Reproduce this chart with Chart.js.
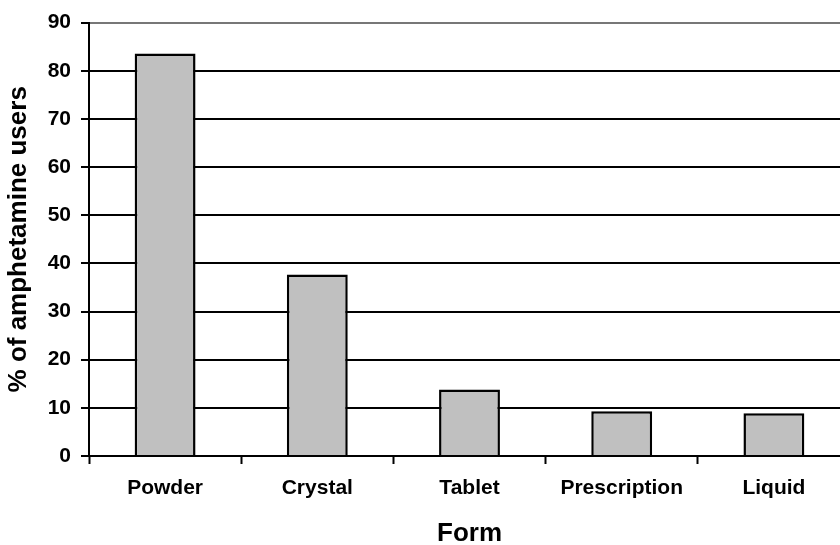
<!DOCTYPE html>
<html>
<head>
<meta charset="utf-8">
<script src="https://cdn.jsdelivr.net/npm/chart.js@4"></script>
<style>
  html, body { margin: 0; padding: 0; background: #fff; overflow: hidden; }
  #wrap { width: 850px; height: 545px; }
</style>
</head>
<body>
<div id="wrap"><canvas id="forms" width="850" height="545"></canvas></div>
<script>
const FORMS = ['Powder', 'Crystal', 'Tablet', 'Prescription', 'Liquid'];
const USERS = [83.6, 37.7, 13.8, 9.3, 8.9];
const Y_TICKS = [0, 10, 20, 30, 40, 50, 60, 70, 80, 90];

const FONT = "'Liberation Sans', Arial, sans-serif";

new Chart(document.getElementById('forms'), {
    type: 'bar',
    data: {
        labels: FORMS,
        datasets: [{
            label: '% of amphetamine users',
            data: USERS,
            backgroundColor: '#c0c0c0',
            borderColor: '#000',
            borderWidth: 2.5,
            categoryPercentage: 1,
            barPercentage: 0.4
        }]
    },
    options: {
        responsive: false,
        animation: false,
        layout: { padding: { top: 22, right: 0, left: 0, bottom: 0 } },
        plugins: { legend: { display: false }, tooltip: { enabled: false } },
        scales: {
            x: {
                grid: {
                    drawOnChartArea: false,
                    drawTicks: true,
                    tickLength: 8,
                    tickWidth: 2,
                    tickColor: '#000'
                },
                border: { color: '#000', width: 2 },
                ticks: {
                    color: '#000',
                    padding: 12,
                    font: { family: FONT, size: 21, weight: 'bold' }
                },
                title: {
                    display: true,
                    text: 'Form',
                    color: '#000',
                    padding: { top: 0, bottom: -4 },
                    font: { family: FONT, size: 26, weight: 'bold' }
                },
                afterFit: s => { s.height = 89; }
            },
            y: {
                min: 0,
                max: 90,
                afterBuildTicks: s => { s.ticks = Y_TICKS.map(v => ({ value: v })); },
                grid: {
                    lineWidth: 2,
                    color: c => c.tick && c.tick.value === 90 ? '#777' : '#000',
                    tickLength: 8,
                    tickWidth: 2,
                    tickColor: '#000'
                },
                border: { color: '#000', width: 2 },
                ticks: {
                    color: '#000',
                    padding: 10,
                    font: { family: FONT, size: 21, weight: 'bold' }
                },
                title: {
                    display: true,
                    text: '% of amphetamine users',
                    color: '#000',
                    padding: { top: 3, bottom: 0 },
                    font: { family: FONT, size: 26, weight: 'bold' }
                },
                afterFit: s => { s.width = 89; }
            }
        }
    }
});
</script>
</body>
</html>
